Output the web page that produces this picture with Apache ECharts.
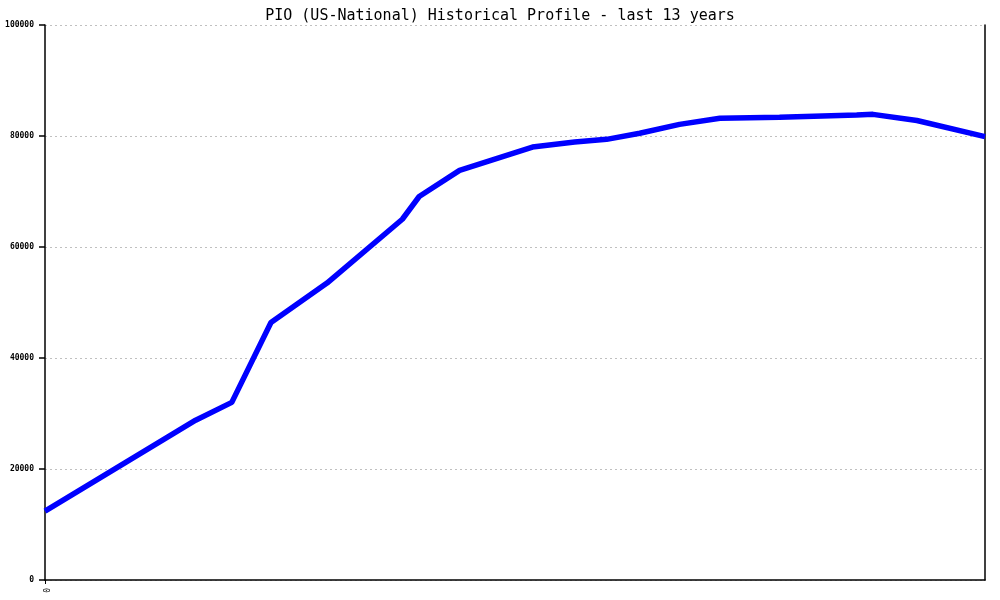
<!DOCTYPE html>
<html>
<head>
<meta charset="utf-8">
<script src="https://cdn.jsdelivr.net/npm/echarts@6/dist/echarts.min.js"></script>
<style>html,body{margin:0;padding:0;background:#fff}#c{width:1000px;height:600px}</style>
</head>
<body>
<div id="c"></div>
<script>
// x in months from the start of the 13-year window
var months = [0, 25, 31, 37.5, 46.8, 59.3, 62.1, 68.8, 80.9, 87.9, 93.2, 98.7, 105.3, 112, 121.9, 134.7, 137.4, 144.7, 156];
var values = [12400, 28800, 32000, 46400, 53500, 65000, 69100, 73800, 78000, 78900, 79400, 80500, 82100, 83200, 83400, 83800, 83900, 82800, 79900];
var yTicks = [0, 20000, 40000, 60000, 80000, 100000];
var xTicks = [0];
var titleText = 'PIO (US-National) Historical Profile - last 13 years';

var pts = months.map(function (m, i) { return [m, values[i]]; });
var chart = echarts.init(document.getElementById('c'), null, {renderer: 'canvas'});
var mono = 'DejaVu Sans Mono';
chart.setOption({
  animation: false,
  backgroundColor: '#ffffff',
  title: {
    text: titleText, left: 'center', top: 4,
    textStyle: {fontFamily: mono, fontSize: 15, fontWeight: 'normal', color: '#000'}
  },
  grid: {left: 45, right: 15, top: 25, bottom: 20, containLabel: false},
  xAxis: {
    type: 'value', min: 0, max: 156,
    axisLine: {show: true, onZero: false, lineStyle: {color: '#000', width: 1.5}},
    axisTick: {show: true, length: 4, customValues: xTicks, lineStyle: {color: '#000'}},
    axisLabel: {
      rotate: -90, fontFamily: mono, fontSize: 8, color: '#000', margin: 8,
      customValues: xTicks,
      formatter: function (v) { return String(v); }
    },
    splitLine: {show: false}
  },
  yAxis: [{
    type: 'value', min: yTicks[0], max: yTicks[yTicks.length - 1], interval: 20000,
    axisLine: {show: true, lineStyle: {color: '#000', width: 1.5}},
    axisTick: {show: true, length: 6, lineStyle: {color: '#000', width: 1.5}},
    axisLabel: {
      fontFamily: mono, fontSize: 8, fontWeight: 'bold', color: '#000', margin: 11,
      formatter: function (v) { return String(v); }
    },
    splitLine: {show: true, lineStyle: {color: '#c0c0c0', type: [2, 3], width: 1}}
  }, {
    type: 'value', min: 0, max: 100000, position: 'right',
    axisLine: {show: true, lineStyle: {color: '#000', width: 1.5}},
    axisTick: {show: false}, axisLabel: {show: false}, splitLine: {show: false}
  }],
  series: [{
    type: 'line', data: pts, symbol: 'none', smooth: false,
    lineStyle: {color: '#0000ff', width: 5.5}, z: 3
  }]
});
</script>
</body>
</html>
